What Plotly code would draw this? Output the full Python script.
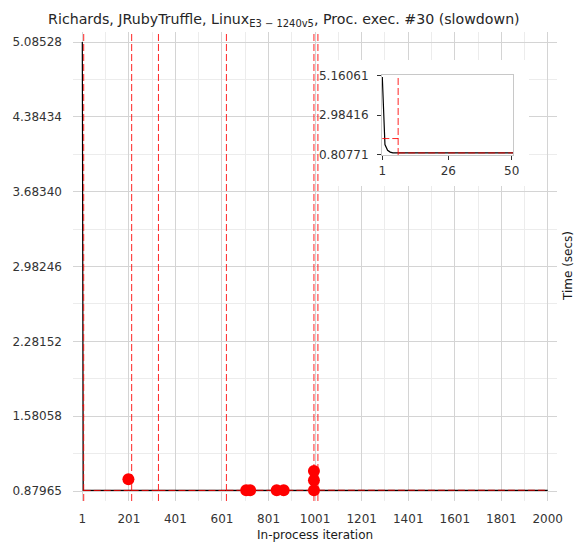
import plotly.graph_objects as go

# ---------------- data ----------------
# main series (in-process iteration vs time); vertices of the drawn line
iterations = [1, 2, 3, 4, 5, 6, 2000]
times = [5.08528, 1.35, 1.03, 0.93, 0.885, 0.885, 0.885]

# outliers (red dots)
outlier_iters = [199, 705, 722, 836, 866, 996, 996, 996]
outlier_times = [0.989, 0.886, 0.886, 0.886, 0.886, 1.067, 0.980, 0.886]

# changepoints (red dashed vertical lines)
changepoints = [7, 213, 328, 620, 996, 1013]

# segment means (red dashed horizontal lines)
segment_bounds = [1, 7, 213, 328, 620, 996, 1013, 2000]
segment_means = [1.68, 0.885, 0.885, 0.885, 0.886, 0.886, 0.887]

# main axis ticks
x_tick_vals = [1, 201, 401, 601, 801, 1001, 1201, 1401, 1601, 1801, 2000]
x_tick_text = ["1", "201", "401", "601", "801", "1001", "1201", "1401", "1601", "1801", "2000"]
x_minor_vals = [101, 301, 501, 701, 901, 1101, 1301, 1501, 1701, 1901]
y_tick_vals = [0.87965, 1.58058, 2.28152, 2.98246, 3.68340, 4.38434, 5.08528]
y_tick_text = ["0.87965", "1.58058", "2.28152", "2.98246", "3.68340", "4.38434", "5.08528"]

# inset axis ticks
inset_x_ticks = [1, 26, 50]
inset_y_ticks = [0.80771, 2.98416, 5.16061]
inset_y_text = ["0.80771", "2.98416", "5.16061"]

TITLE = "Richards, JRubyTruffle, Linux<sub>E3 \u2212 1240v5</sub>, Proc. exec. #30 (slowdown)"
FONT = "DejaVu Sans"
W, H = 577, 544
ML, MR, MT, MB = 73, 20, 32, 43
PW, PH = W - ML - MR, H - MT - MB

fig = go.Figure()

def add_series(xa, ya):
    # black data line
    fig.add_trace(go.Scatter(x=iterations, y=times, mode="lines",
                             line=dict(color="black", width=1.2),
                             xaxis=xa, yaxis=ya, hoverinfo="skip", showlegend=False))
    # segment means
    for i, m in enumerate(segment_means):
        fig.add_trace(go.Scatter(x=[segment_bounds[i], segment_bounds[i + 1]], y=[m, m],
                                 mode="lines", line=dict(color="red", width=1, dash="7px,3px"),
                                 opacity=0.85, xaxis=xa, yaxis=ya, hoverinfo="skip",
                                 showlegend=False))

add_series("x", "y")
fig.add_trace(go.Scatter(x=outlier_iters, y=outlier_times, mode="markers",
                         marker=dict(color="red", size=12, line=dict(width=0)),
                         xaxis="x", yaxis="y", hoverinfo="skip", showlegend=False))

# changepoints in main plot
for cp in changepoints:
    fig.add_shape(type="line", xref="x", yref="y domain", x0=cp, x1=cp, y0=0, y1=1,
                  line=dict(color="red", width=1, dash="7px,3px"), opacity=0.85, layer="above")

# white backdrop subplot for the inset (x2/y2)
fig.add_trace(go.Scatter(x=[None], y=[None], xaxis="x2", yaxis="y2",
                         hoverinfo="skip", showlegend=False))

# inset (x3/y3)
add_series("x3", "y3")
for cp in changepoints:
    fig.add_shape(type="line", xref="x3", yref="y3 domain", x0=cp, x1=cp, y0=0, y1=1,
                  line=dict(color="red", width=1, dash="7px,3px"), opacity=0.85, layer="above")

grid_major = "#d4d4d4"
grid_minor = "#ececec"
tickfont = dict(family=FONT, size=12, color="#333333")

def px_x(px):
    return (px - ML) / PW

def px_y(py):
    return (H - MB - py) / PH

fig.update_layout(
    width=W, height=H,
    margin=dict(l=ML, r=MR, t=MT, b=MB, pad=0, autoexpand=False),
    paper_bgcolor="white", plot_bgcolor="white",
    font=dict(family=FONT, size=12, color="#333333"),
    title=dict(text=TITLE, x=0.492, xanchor="center", y=1 - 19 / H, yanchor="middle",
               font=dict(family=FONT, size=14.2, color="#262626")),
    showlegend=False,
    xaxis=dict(range=[-39, 2040], tickmode="array", tickvals=x_tick_vals, ticktext=x_tick_text,
               showgrid=True, gridcolor=grid_major, gridwidth=1, zeroline=False, showline=False,
               ticks="", tickfont=tickfont, ticklabelstandoff=9, automargin=False,
               minor=dict(tickmode="array", tickvals=x_minor_vals, showgrid=True,
                          gridcolor=grid_minor, gridwidth=1, ticks="")),
    yaxis=dict(range=[0.786, 5.179], tickmode="array", tickvals=y_tick_vals, ticktext=y_tick_text,
               showgrid=True, gridcolor=grid_major, gridwidth=1, zeroline=False, showline=False,
               ticks="", tickfont=tickfont, ticklabelstandoff=10, automargin=False,
               minor=dict(tickmode="array",
                          tickvals=[(y_tick_vals[i] + y_tick_vals[i + 1]) / 2 for i in range(len(y_tick_vals) - 1)],
                          showgrid=True, gridcolor=grid_minor, gridwidth=1, ticks="")),
    xaxis2=dict(domain=[px_x(320), px_x(529)], anchor="y2", visible=False, range=[0, 1],
                automargin=False),
    yaxis2=dict(domain=[px_y(186), px_y(60)], anchor="x2", visible=False, range=[0, 1],
                automargin=False),
    xaxis3=dict(domain=[px_x(382), px_x(513.3)], anchor="y3", range=[0.886, 50.6],
                tickmode="array", tickvals=inset_x_ticks, ticktext=[str(v) for v in inset_x_ticks],
                showgrid=False, zeroline=False, showline=True, mirror=True, linecolor="#c8c8c8",
                linewidth=1, ticks="outside", ticklen=4, tickcolor="#333333", tickwidth=1,
                tickfont=tickfont, ticklabelstandoff=1, automargin=False),
    yaxis3=dict(domain=[px_y(155), px_y(75)], anchor="x3", range=[0.769, 5.199],
                tickmode="array", tickvals=inset_y_ticks, ticktext=inset_y_text,
                showgrid=False, zeroline=False, showline=True, mirror=True, linecolor="#c8c8c8",
                linewidth=1, ticks="outside", ticklen=4, tickcolor="#333333", tickwidth=1,
                tickfont=tickfont, ticklabelstandoff=6, automargin=False),
    annotations=[
        dict(text="In-process iteration", xref="paper", yref="paper", x=px_x(315), y=px_y(535),
             xanchor="center", yanchor="middle", showarrow=False,
             font=dict(family=FONT, size=12, color="#1a1a1a")),
        dict(text="Time (secs)", xref="paper", yref="paper", x=px_x(568), y=px_y(266),
             xanchor="center", yanchor="middle", textangle=-90, showarrow=False,
             font=dict(family=FONT, size=12, color="#1a1a1a")),
    ],
)

fig.write_html("out.html", config={"displayModeBar": False},
               post_script="document.body.style.margin='0px';document.body.style.padding='0px';")
